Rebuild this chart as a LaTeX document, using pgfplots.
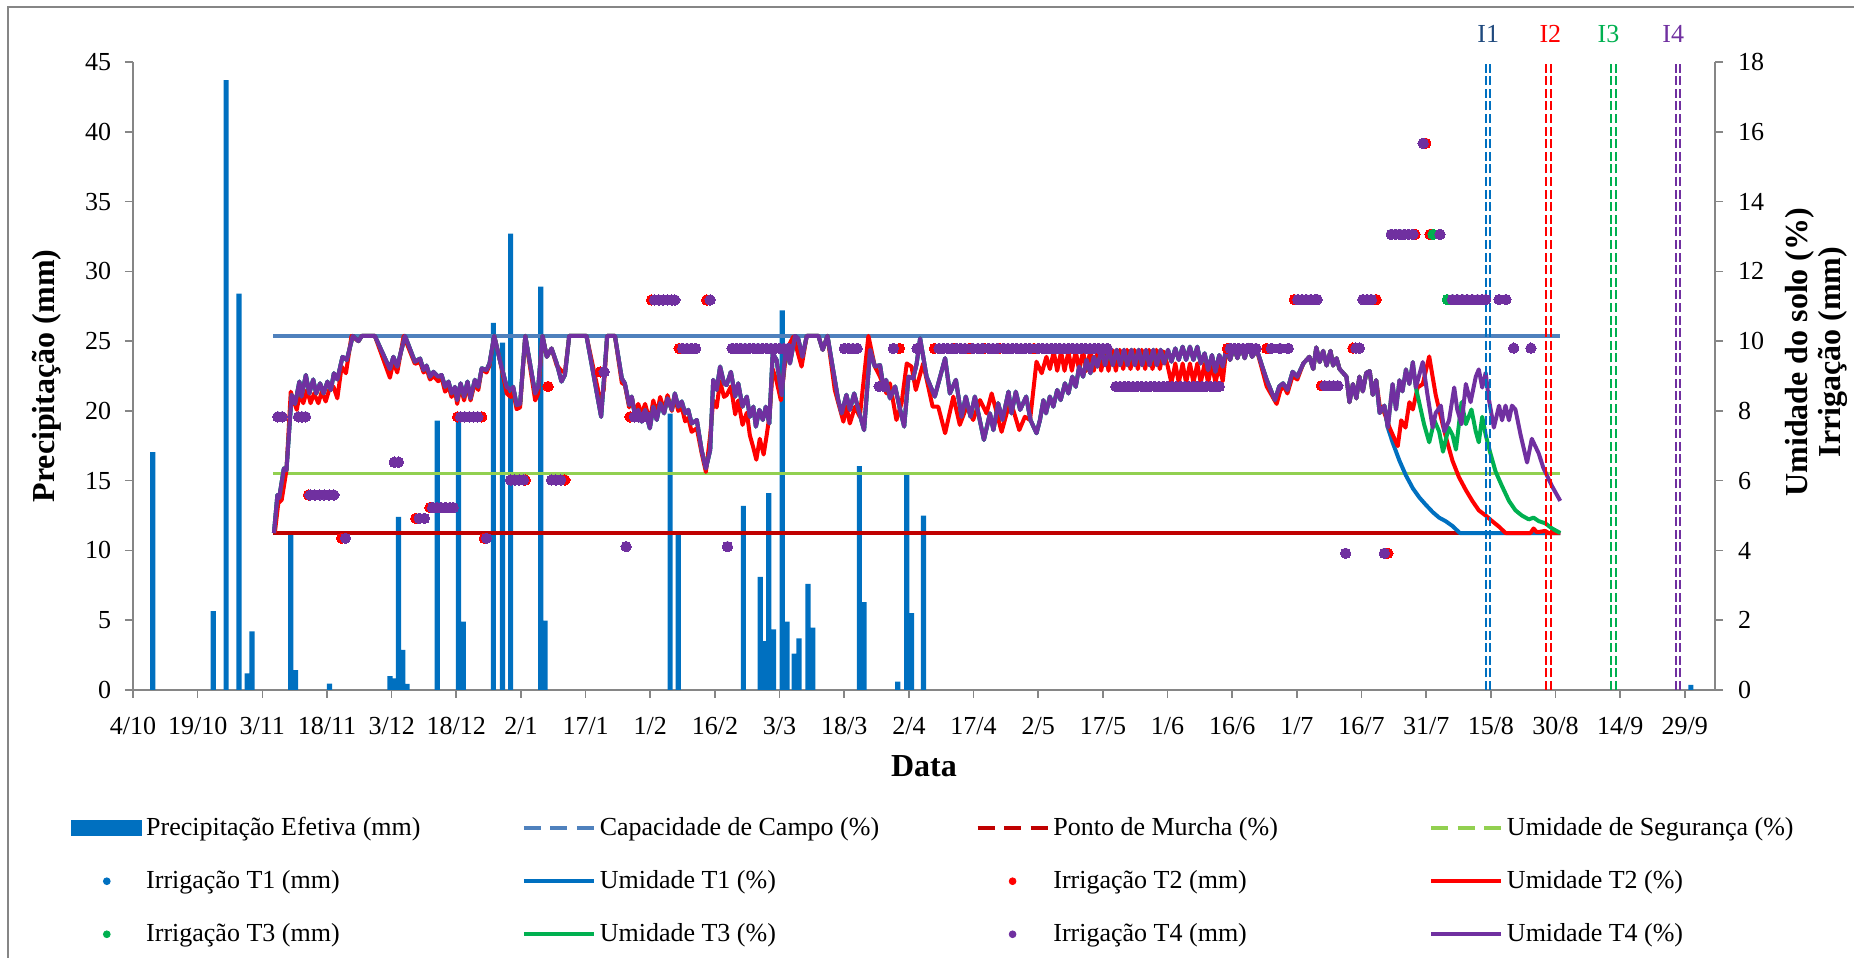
\documentclass[border=0pt]{standalone}
\usepackage{fontspec}
\setmainfont{Liberation Serif}
\usepackage{pgfplots}
\pgfplotsset{compat=1.18}
\usepackage{pgfplotstable}

\definecolor{cBar}{HTML}{0070C0}
\definecolor{cCC}{HTML}{4F81BD}
\definecolor{cPM}{HTML}{C00000}
\definecolor{cUS}{HTML}{92D050}
\definecolor{cT1}{HTML}{0070C0}
\definecolor{cT2}{HTML}{FF0000}
\definecolor{cT3}{HTML}{00B050}
\definecolor{cT4}{HTML}{7030A0}
\definecolor{cI1}{HTML}{1F497D}
\definecolor{cAxis}{HTML}{868686}

\pgfplotstableread{
x y
32.7 4.5
33.5 5.59
33.9 5.5
35.0 6.35
35.6 6.3
36.8 8.46
37.6 8.2
38.6 8.84
39.1 8.41
40.1 9.03
40.9 8.5
41.8 8.9
42.5 8.5
43.4 8.79
44.2 8.5
45.1 8.84
45.9 8.6
46.6 9.08
47.4 8.9
48.6 9.55
49.6 9.46
51.0 10.15
52.3 10.0
53.1 10.15
56.1 10.15
59.6 9.2
60.4 9.55
61.3 9.27
63.1 10.15
65.4 9.41
66.6 9.5
67.4 9.17
68.1 9.3
68.9 8.98
69.7 9.12
70.8 8.98
71.6 9.03
72.4 8.69
73.2 8.84
73.9 8.5
74.7 8.69
75.2 8.31
76.0 8.79
76.8 8.41
77.6 8.84
78.3 8.36
79.3 8.89
80.1 8.69
80.9 9.22
82.0 9.17
82.7 9.36
83.8 10.15
85.1 9.46
86.7 8.69
87.6 8.6
88.2 8.69
89.0 8.17
89.8 8.2
91.0 10.15
93.3 8.5
94.0 8.69
95.0 10.15
96.0 9.55
97.1 9.79
98.3 9.36
99.4 8.84
100.2 9.03
101.2 10.15
105.2 10.15
108.6 7.83
110.0 10.15
111.8 10.15
113.4 8.93
114.1 8.79
115.1 8.17
115.7 8.41
116.5 7.83
117.2 8.03
118.0 7.69
118.8 8.03
119.9 7.5
120.7 8.12
121.5 7.74
122.3 8.22
123.2 7.93
124.0 8.36
125.0 8.03
125.7 8.5
126.5 8.12
127.3 8.27
128.1 7.93
128.8 8.03
129.6 7.64
130.8 7.74
131.9 6.88
132.9 6.35
133.9 6.88
134.6 8.89
135.4 8.6
136.2 9.27
137.1 8.79
137.7 8.74
138.7 9.12
139.7 8.41
140.4 8.79
141.4 8.12
142.4 8.41
143.1 7.83
143.9 8.12
144.5 7.55
145.3 8.03
146.1 7.74
146.8 8.12
147.6 7.64
148.4 9.65
149.3 9.46
150.5 8.45
151.4 9.84
152.4 9.36
153.6 10.15
154.3 10.08
155.3 9.55
156.3 10.15
159.0 10.15
160.0 9.75
161.1 10.15
163.6 8.31
164.4 7.93
165.5 8.46
166.3 8.03
167.3 8.5
168.3 8.03
169.6 7.45
171.0 9.75
172.1 9.27
173.3 9.31
174.2 8.6
174.7 8.89
175.6 8.36
176.8 8.7
177.8 8.12
178.9 7.55
179.9 8.98
181.0 8.93
181.8 9.36
182.6 10.08
184.1 8.98
186.0 8.41
188.4 9.51
189.5 8.5
190.9 8.89
192.2 7.83
193.2 8.41
194.3 7.83
195.3 8.41
197.4 7.17
198.8 7.93
199.6 7.45
200.7 8.22
201.7 7.74
203.1 8.55
203.8 7.93
204.8 8.55
205.8 8.03
207.2 8.41
208.2 7.74
209.6 7.36
210.4 7.74
211.2 8.31
211.8 7.93
212.7 8.41
213.5 8.12
214.4 8.6
215.2 8.31
216.2 8.79
217.0 8.5
217.9 8.98
218.7 8.69
219.5 9.27
220.4 8.98
221.2 9.46
222.1 9.08
222.9 9.55
223.7 9.27
224.7 9.75
225.5 9.31
226.4 9.75
227.3 9.31
228.2 9.75
229.0 9.31
229.9 9.75
230.7 9.31
231.6 9.75
232.4 9.31
233.3 9.75
234.1 9.31
235.0 9.75
235.8 9.31
236.7 9.75
237.5 9.31
238.4 9.75
239.2 9.36
240.1 9.75
240.9 9.41
241.8 9.79
242.6 9.46
243.5 9.84
244.3 9.46
245.2 9.84
246.0 9.46
246.9 9.84
247.7 9.36
248.6 9.65
249.4 9.17
250.3 9.6
251.1 9.12
252.0 9.6
252.8 9.27
253.7 9.84
254.5 9.46
255.4 9.84
256.2 9.51
257.1 9.84
257.9 9.51
258.8 9.89
259.6 9.55
260.7 9.75
263.0 8.89
264.9 8.31
265.9 8.7
266.8 8.79
267.8 8.6
269.0 9.12
270.1 8.98
271.5 9.36
272.9 9.55
273.8 9.2
274.5 9.82
275.3 9.4
276.1 9.72
276.9 9.3
277.8 9.72
278.4 9.3
279.2 9.51
279.9 9.2
280.7 9.09
281.5 8.98
282.2 8.25
283.0 8.77
283.8 8.36
284.5 8.98
285.3 8.56
286.1 9.09
286.9 9.14
287.6 8.46
288.4 8.88
289.2 7.94
290.3 8.15
291.1 7.52
292.2 8.77
293.0 8.04
293.8 8.88
294.5 8.56
295.3 9.19
296.1 8.77
296.9 9.4
297.6 8.67
299.2 9.4
300.3 8.46
301.5 7.52
302.2 7.94
303.4 8.15
304.2 7.41
305.3 7.73
306.5 8.67
307.2 8.04
308.2 7.62
309.2 8.77
310.3 8.25
311.5 8.98
312.2 9.19
313.0 8.67
313.8 9.09
314.5 8.36
315.7 7.52
316.9 8.15
317.6 7.73
318.4 8.15
319.2 7.73
319.9 8.15
320.7 8.04
321.9 7.31
323.4 6.52
324.5 7.2
326.1 6.78
327.2 6.36
329.2 5.84
331.1 5.42
}\Tfour

\pgfplotsset{
  linelegend/.style={legend image code/.code={\draw[#1,line width=1.8pt] (0pt,0pt) -- (35pt,0pt);}},
  dashlegend/.style={legend image code/.code={\draw[#1,line width=1.8pt,dash pattern=on 8.5pt off 4.75pt] (0pt,0pt) -- (35pt,0pt);}},
  dotlegend/.style={legend image code/.code={\path (0pt,0pt) (35pt,0pt); \fill[#1] (17.5pt,0pt) circle (1.7pt);}},
}

\begin{document}
\begin{tikzpicture}
\begin{axis}[
  scale only axis, width=791pt, height=314pt,
  xmin=0, xmax=367, ymin=0, ymax=45,
  axis x line*=bottom, axis y line*=left,
  axis line style={draw=cAxis, line width=0.8pt, -},
  tick style={draw=cAxis, line width=0.8pt},
  tick align=outside, major tick length=4pt,
  xtick={0,15,...,360},
  xticklabels={4/10,19/10,3/11,18/11,3/12,18/12,2/1,17/1,1/2,16/2,3/3,18/3,2/4,17/4,2/5,17/5,1/6,16/6,1/7,16/7,31/7,15/8,30/8,14/9,29/9},
  ytick={0,5,...,45},
  /pgf/number format/assume math mode=true,
  tick label style={font=\fontsize{13}{15}\selectfont},
  xticklabel style={yshift=-6pt},
  yticklabel style={xshift=-3.4pt},
  xlabel={Data},
  xlabel style={font=\bfseries\fontsize{16}{18}\selectfont, at={(axis description cs:0.5,-0.121)}, anchor=center},
  ylabel={Precipitação (mm)},
  ylabel style={font=\bfseries\fontsize{16}{18}\selectfont, at={(axis description cs:-0.0547,0.5)}, anchor=center},
]
\addplot[ybar, bar width=1.2, fill=cBar, draw=none] coordinates {
(4.6,17.05) (18.6,5.66) (21.6,43.7) (24.6,28.4) (26.5,1.2) (27.6,4.2) (36.6,11.1) (37.7,1.43) (45.6,0.45)
(59.6,1.0) (60.6,0.84) (61.6,12.4) (62.6,2.87) (63.6,0.43) (70.6,19.3) (75.5,19.2) (76.6,4.9)
(83.6,26.3) (85.7,24.9) (87.6,32.7) (94.6,28.9) (95.6,4.97) (124.6,19.8) (126.5,11.1)
(141.6,13.2) (145.5,8.1) (146.5,3.5) (147.5,14.1) (148.6,4.35) (150.6,27.2) (151.7,4.9)
(153.4,2.6) (154.5,3.7) (156.6,7.6) (157.7,4.47) (168.5,16.05) (169.6,6.3) (177.4,0.6)
(179.5,15.6) (180.6,5.5) (183.4,12.5) (361.4,0.36)
};
\end{axis}

\begin{axis}[
  scale only axis, width=791pt, height=314pt,
  xmin=0, xmax=367, ymin=0, ymax=18,
  axis y line*=right, axis x line=none,
  axis line style={draw=cAxis, line width=0.8pt, -},
  tick style={draw=cAxis, line width=0.8pt},
  tick align=outside, major tick length=4pt,
  ytick={0,2,...,18},
  /pgf/number format/assume math mode=true,
  tick label style={font=\fontsize{13}{15}\selectfont},
  yticklabel style={xshift=4pt},
  ylabel={Umidade do solo (\%)\\Irrigação (mm)},
  ylabel style={font=\bfseries\fontsize{16}{16.5}\selectfont, align=center, at={(axis description cs:1.0642,0.538)}, anchor=center},
  clip=false,
  legend columns=4,
  legend cell align=left,
  legend style={at={(0,0)}, anchor=north west, xshift=-34pt, yshift=-59.5pt,
    draw=none, fill=none, font=\fontsize{13}{15}\selectfont, row sep=12pt},
]
\addlegendimage{legend image code/.code={\fill[cBar] (0pt,-3.75pt) rectangle (35pt,3.75pt);}}
\addlegendentry{\makebox[186pt][l]{Precipitação Efetiva (mm)}}

\addplot[cCC, line width=1.8pt, dashlegend=cCC] coordinates {(32.5,10.15) (331.1,10.15)};
\addlegendentry{\makebox[186pt][l]{Capacidade de Campo (\%)}}
\addplot[cPM, line width=1.8pt, dashlegend=cPM] coordinates {(32.5,4.5) (331.1,4.5)};
\addlegendentry{\makebox[186pt][l]{Ponto de Murcha (\%)}}
\addplot[cUS, line width=1.8pt, dashlegend=cUS] coordinates {(32.5,6.2) (331.1,6.2)};
\addlegendentry{\makebox[186pt][l]{Umidade de Segurança (\%)}}

% Irrigacao T1
\addplot[cT1, only marks, mark=*, mark size=2.6pt, mark options={fill=cT1, draw=cT1, line width=0pt}, dotlegend=cT1] coordinates {
(33.6,7.83) (34.6,7.83) (38.4,7.83) (39.2,7.83) (40.0,7.83)
(139,9.79) (140,9.79) (141,9.79) (142,9.79) (143,9.79) (144,9.79) (145,9.79) (146,9.79) (147,9.79) (148,9.79) (149,9.79) (150,9.79) (151,9.79) (152,9.79)
};
\addlegendentry{\makebox[186pt][l]{Irrigação T1 (mm)}}
% Umidade T1
\addplot[cT1, line width=2pt, line join=round, restrict x to domain=0:291.15, linelegend=cT1] table[x=x,y=y] {\Tfour};
\addlegendentry{\makebox[186pt][l]{Umidade T1 (\%)}}
\addplot[cT1, line width=2pt, line join=round, forget plot] coordinates {
(291.1,7.52) (292.2,7.1) (293.8,6.57) (295.3,6.15) (296.9,5.78) (298.4,5.52) (299.9,5.31) (301.5,5.1) (303.0,4.94) (304.5,4.84) (306.1,4.7) (307.8,4.5) (331.1,4.5)
};

% Irrigacao T2
\addplot[cT2, only marks, mark=*, mark size=2.6pt, mark options={fill=cT2, draw=cT2, line width=0pt}, dotlegend=cT2] coordinates {
(40.7,5.59) (48.4,4.35) (65.6,4.92) (68.9,5.23) (75.3,7.83) (80.9,7.83) (81.5,4.35) (91.0,6.02) (96.3,8.7) (100.2,6.02)
(108.4,9.12) (115.3,7.83) (120.3,11.18) (126.7,9.79) (133.1,11.18) (177.8,9.79) (185.9,9.79) (190.5,9.79) (194.0,9.79)
(197.5,9.79) (201.0,9.79) (209.0,9.79) (253.9,9.79) (263.0,9.79) (269.4,11.19) (275.7,8.72) (283.0,9.8) (288.4,11.19)
(291.1,3.92) (297.4,13.06) (300.9,13.06) (299.9,15.67)
};
\addlegendentry{\makebox[186pt][l]{Irrigação T2 (mm)}}
% Umidade T2
\addplot[cT2, line width=2pt, line join=round, linelegend=cT2] coordinates {
(32.9,4.5) (33.7,5.35) (34.5,5.45) (35.6,6.3) (36.6,8.55) (37.2,8.31) (38.0,8.03) (38.7,8.5) (39.5,8.22) (40.4,8.6)
(41.2,8.22) (42.0,8.5) (43.0,8.22) (43.8,8.55) (44.7,8.27) (45.5,8.6) (46.5,8.7) (47.4,8.36) (48.4,9.27) (49.4,9.08)
(50.7,10.15) (52.3,10.0) (53.1,10.15) (56.1,10.15) (59.6,8.95) (60.4,9.4) (61.3,9.1) (62.8,10.15) (65.4,9.35) (66.6,9.4)
(67.4,9.1) (68.1,9.2) (68.9,8.9) (69.7,9.0) (70.8,8.85) (71.6,8.95) (72.4,8.55) (73.2,8.7) (73.9,8.4) (74.7,8.6)
(75.2,8.2) (76.0,8.7) (76.8,8.3) (77.6,8.75) (78.3,8.3) (79.3,8.8) (80.1,8.6) (80.9,9.2) (82.0,9.1) (82.7,9.3)
(83.8,10.15) (85.1,9.46) (86.7,8.5) (87.6,8.4) (88.2,8.55) (89.0,8.05) (89.8,8.1) (91.0,10.15) (93.3,8.3) (94.0,8.5)
(95.0,10.15) (96.0,9.55) (97.1,9.79) (98.3,9.3) (99.4,9.15) (100.2,9.1) (101.2,10.15) (105.2,10.15) (108.4,8.3) (109.2,8.6)
(110.0,10.15) (111.8,10.15) (113.4,8.8) (114.1,8.75) (115.1,8.1) (115.7,8.4) (116.5,7.9) (117.2,8.2) (118.0,7.9) (118.8,8.2)
(119.9,7.7) (120.7,8.3) (121.5,7.9) (122.3,8.4) (123.2,8.0) (124.0,8.45) (125.0,8.0) (125.7,8.4) (126.5,8.0) (127.3,8.1)
(128.1,7.7) (128.8,7.8) (129.6,7.4) (130.8,7.5) (131.9,6.8) (132.9,6.25) (133.9,7.3) (134.6,8.3) (135.4,8.1) (136.2,8.85)
(137.1,8.4) (137.7,8.45) (138.7,8.7) (139.7,7.9) (140.4,8.3) (141.4,7.6) (142.4,7.95) (143.1,7.3) (143.9,6.95) (144.6,6.6)
(145.4,7.2) (146.3,6.75) (147.0,7.3) (147.7,7.9) (148.4,9.2) (149.3,8.85) (150.3,8.3) (151.6,9.75) (153.2,10.13) (155.1,9.27)
(156.3,10.15) (159.0,10.15) (160.0,9.75) (161.1,10.15) (162.8,8.6) (164.8,7.69) (165.5,8.12) (166.3,7.64) (167.5,8.12) (168.6,7.83)
(170.6,10.15) (172.1,9.27) (173.3,8.98) (174.8,8.5) (175.6,8.79) (177.1,7.74) (178.3,8.22) (179.5,9.36) (180.6,9.27) (181.6,8.6)
(183.3,9.36) (185.5,8.12) (186.8,8.12) (188.4,7.36) (190.3,8.41) (191.8,7.6) (193.4,8.12) (194.9,7.74) (196.5,8.31) (198.0,7.93)
(199.2,8.5) (201.5,7.4) (203.1,8.12) (204.2,8.03) (205.6,7.45) (206.9,7.83) (208.1,7.74) (209.6,9.41) (210.8,9.08) (211.9,9.55)
(212.7,9.2) (213.6,9.7) (214.4,9.15) (215.3,9.7) (216.1,9.15) (217.0,9.7) (217.8,9.15) (218.7,9.72) (219.5,9.15) (220.4,9.72)
(221.2,9.15) (222.1,9.75) (222.9,9.15) (223.8,9.75) (224.6,9.15) (225.5,9.75) (226.3,9.15) (227.2,9.75) (228.0,9.15) (228.9,9.75)
(229.7,9.2) (230.6,9.75) (231.4,9.2) (232.3,9.75) (233.1,9.2) (234.0,9.75) (234.8,9.2) (235.7,9.75) (236.5,9.2) (237.4,9.75)
(238.2,9.2) (239.1,9.7) (240.0,9.3) (240.9,8.8) (241.8,9.36) (242.6,8.8) (243.5,9.36) (244.3,8.8) (245.2,9.36) (246.0,8.8)
(246.9,9.36) (247.7,8.8) (248.6,9.36) (249.4,8.8) (250.3,9.36) (251.1,8.8) (252.0,9.3) (252.8,8.85) (253.7,9.84) (254.5,9.46)
(255.4,9.84) (256.2,9.51) (257.1,9.84) (257.9,9.51) (258.8,9.89) (259.6,9.55) (260.7,9.75) (263.0,8.7) (265.3,8.2) (266.2,8.6)
(267.0,8.7) (267.8,8.5) (269.0,9.0) (270.1,8.9) (271.5,9.36) (272.9,9.55) (273.8,9.2) (274.5,9.82) (275.3,9.4) (276.1,9.72)
(276.9,9.3) (277.8,9.72) (278.4,9.3) (279.2,9.51) (279.9,9.2) (280.7,9.09) (281.5,8.98) (282.2,8.25) (283.0,8.77) (283.8,8.36)
(284.5,8.98) (285.3,8.56) (286.1,9.09) (286.9,9.14) (287.6,8.46) (288.4,8.88) (289.2,8.15) (290.3,7.94) (291.5,7.52) (293.4,6.99)
(294.2,7.73) (295.2,7.52) (296.1,8.25) (296.9,8.04) (298.0,8.67) (299.2,8.77) (300.7,9.56) (302.2,8.46) (303.8,7.62) (304.9,7.1)
(306.1,6.57) (307.6,6.1) (309.2,5.73) (310.7,5.42) (312.2,5.15) (313.8,5.0) (315.3,4.84) (316.9,4.68) (318.4,4.5) (324.2,4.5)
(324.9,4.63) (325.7,4.52) (327.6,4.56) (328.4,4.5) (331.1,4.5)
};
\addlegendentry{\makebox[186pt][l]{Umidade T2 (\%)}}

% Irrigacao T3
\addplot[cT3, only marks, mark=*, mark size=2.6pt, mark options={fill=cT3, draw=cT3, line width=0pt}, dotlegend=cT3] coordinates {
(291.9,13.06) (292.9,13.06) (293.9,13.06) (301.6,13.06) (304.9,11.19) (306.1,11.19) (307.2,11.19) (308.4,11.19)
};
\addlegendentry{\makebox[186pt][l]{Irrigação T3 (mm)}}
% Umidade T3
\addplot[cT3, line width=2pt, line join=round, restrict x to domain=0:297.65, linelegend=cT3] table[x=x,y=y] {\Tfour};
\addlegendentry{\makebox[186pt][l]{Umidade T3 (\%)}}
\addplot[cT3, line width=2pt, line join=round, forget plot] coordinates {
(297.6,8.67) (299.5,7.62) (300.7,7.1) (301.9,7.73) (303.0,7.41) (303.9,6.83) (305.2,7.52) (306.1,7.31) (306.9,6.89) (308.2,8.25)
(309.2,7.62) (310.5,8.04) (311.5,7.41) (312.2,7.1) (313.0,7.83) (313.8,7.31) (314.9,6.78) (316.1,6.26) (317.6,5.84) (319.2,5.42)
(320.7,5.15) (322.2,5.0) (323.8,4.89) (324.9,4.94) (326.1,4.84) (327.6,4.78) (329.2,4.63) (331.1,4.5)
};

% Irrigacao T4
\addplot[cT4, only marks, mark=*, mark size=2.6pt, mark options={fill=cT4, draw=cT4, line width=0pt}, dotlegend=cT4] coordinates {
(33.6,7.83) (34.6,7.83) (38.4,7.83) (39.2,7.83) (40.0,7.83)
(41.1,5.59) (42.2,5.59) (43.3,5.59) (44.4,5.59) (45.5,5.59) (46.6,5.59)
(49.3,4.35) (60.6,6.53) (61.6,6.53) (66.4,4.92) (67.6,4.92)
(69.5,5.23) (70.5,5.23) (71.5,5.23) (72.5,5.23) (73.5,5.23) (74.3,5.23)
(76.0,7.83) (77.0,7.83) (78.0,7.83) (79.0,7.83) (80.0,7.83) (82.0,4.35)
(87.6,6.02) (88.6,6.02) (89.6,6.02) (90.6,6.02) (97.1,6.02) (98.1,6.02) (99.2,6.02)
(109.3,9.12) (114.4,4.11) (116.3,7.83) (117.3,7.83) (118.3,7.83) (119.2,7.83)
(121.0,11.18) (122.0,11.18) (123.0,11.18) (124.0,11.18) (125.0,11.18) (125.7,11.18)
(127.5,9.79) (128.5,9.79) (129.5,9.79) (130.5,9.79) (133.9,11.18) (137.9,4.11)
(139,9.79) (140,9.79) (141,9.79) (142,9.79) (143,9.79) (144,9.79) (145,9.79) (146,9.79) (147,9.79) (148,9.79) (149,9.79) (150,9.79) (151,9.79) (152,9.79)
(165,9.79) (166,9.79) (167,9.79) (168,9.79) (173.1,8.7) (174.2,8.7) (176.4,9.79) (181.9,9.79)
(187,9.79) (188,9.79) (189,9.79) (190,9.79) (191,9.79) (192,9.79) (193,9.79) (194.8,9.79) (196,9.79) (197,9.79)
(198.5,9.79) (199.5,9.79) (200.5,9.79) (202,9.79) (203,9.79) (204,9.79) (205,9.79) (206,9.79) (207,9.79) (208,9.79)
(210,9.79) (211,9.79) (212,9.79) (213,9.79) (214,9.79) (215,9.79) (216,9.79) (217,9.79) (218,9.79) (219,9.79)
(220,9.79) (221,9.79) (222,9.79) (223,9.79) (224,9.79) (225,9.79) (226,9.79)
(228,8.7) (229,8.7) (230,8.7) (231,8.7) (232,8.7) (233,8.7) (234,8.7) (235,8.7) (236,8.7) (237,8.7) (238,8.7) (239,8.7)
(240,8.7) (241,8.7) (242,8.7) (243,8.7) (244,8.7) (245,8.7) (246,8.7) (247,8.7) (248,8.7) (249,8.7) (250,8.7) (251,8.7) (252,8.7)
(254.6,9.79) (255.5,9.79) (256.5,9.79) (257.5,9.79) (258.5,9.79) (259.5,9.79) (260.5,9.79) (264.1,9.79) (266.1,9.79) (268.0,9.79)
(270.2,11.19) (271.2,11.19) (272.2,11.19) (273.2,11.19) (274.2,11.19) (274.7,11.19)
(276.5,8.72) (277.5,8.72) (278.5,8.72) (279.5,8.72) (281.3,3.92) (290.3,3.92) (283.7,9.8) (284.5,9.8)
(285.3,11.19) (286.3,11.19) (287.3,11.19)
(291.9,13.06) (292.9,13.06) (293.9,13.06) (294.9,13.06) (295.9,13.06) (296.9,13.06) (303.2,13.06) (299.3,15.67)
(306.1,11.19) (307.2,11.19) (308.4,11.19) (309.5,11.19) (310.7,11.19) (311.9,11.19) (313.0,11.19) (313.8,11.19) (316.9,11.19) (318.5,11.19)
(320.3,9.8) (324.3,9.8)
};
\addlegendentry{\makebox[186pt][l]{Irrigação T4 (mm)}}
% Umidade T4
\addplot[cT4, line width=2pt, line join=round, linelegend=cT4] table[x=x,y=y] {\Tfour};
\addlegendentry{\makebox[186pt][l]{Umidade T4 (\%)}}

% vertical markers
\addplot[cT1, line width=1pt, dash pattern=on 4.5pt off 1.8pt, forget plot] coordinates {(313.8,0) (313.8,18)};
\addplot[cT1, line width=1pt, dash pattern=on 4.5pt off 1.8pt, forget plot] coordinates {(314.9,0) (314.9,18)};
\addplot[cT2, line width=1pt, dash pattern=on 4.5pt off 1.8pt, forget plot] coordinates {(327.9,0) (327.9,18)};
\addplot[cT2, line width=1pt, dash pattern=on 4.5pt off 1.8pt, forget plot] coordinates {(328.9,0) (328.9,18)};
\addplot[cT3, line width=1pt, dash pattern=on 4.5pt off 1.8pt, forget plot] coordinates {(342.8,0) (342.8,18)};
\addplot[cT3, line width=1pt, dash pattern=on 4.5pt off 1.8pt, forget plot] coordinates {(344.0,0) (344.0,18)};
\addplot[cT4, line width=1pt, dash pattern=on 4.5pt off 1.8pt, forget plot] coordinates {(357.9,0) (357.9,18)};
\addplot[cT4, line width=1pt, dash pattern=on 4.5pt off 1.8pt, forget plot] coordinates {(358.8,0) (358.8,18)};

\node[text=cI1, font=\fontsize{13}{15}\selectfont] at (axis cs:314.4,18.8) {I1};
\node[text=cT2, font=\fontsize{13}{15}\selectfont] at (axis cs:328.8,18.8) {I2};
\node[text=cT3, font=\fontsize{13}{15}\selectfont] at (axis cs:342.3,18.8) {I3};
\node[text=cT4, font=\fontsize{13}{15}\selectfont] at (axis cs:357.3,18.8) {I4};
\end{axis}

\draw[cAxis, line width=1pt] (-62.5pt,-200pt) rectangle (950pt,341.5pt);
\pgfresetboundingbox
\useasboundingbox (-66.5pt,-134pt) rectangle (860.5pt,345pt);
\end{tikzpicture}
\end{document}
